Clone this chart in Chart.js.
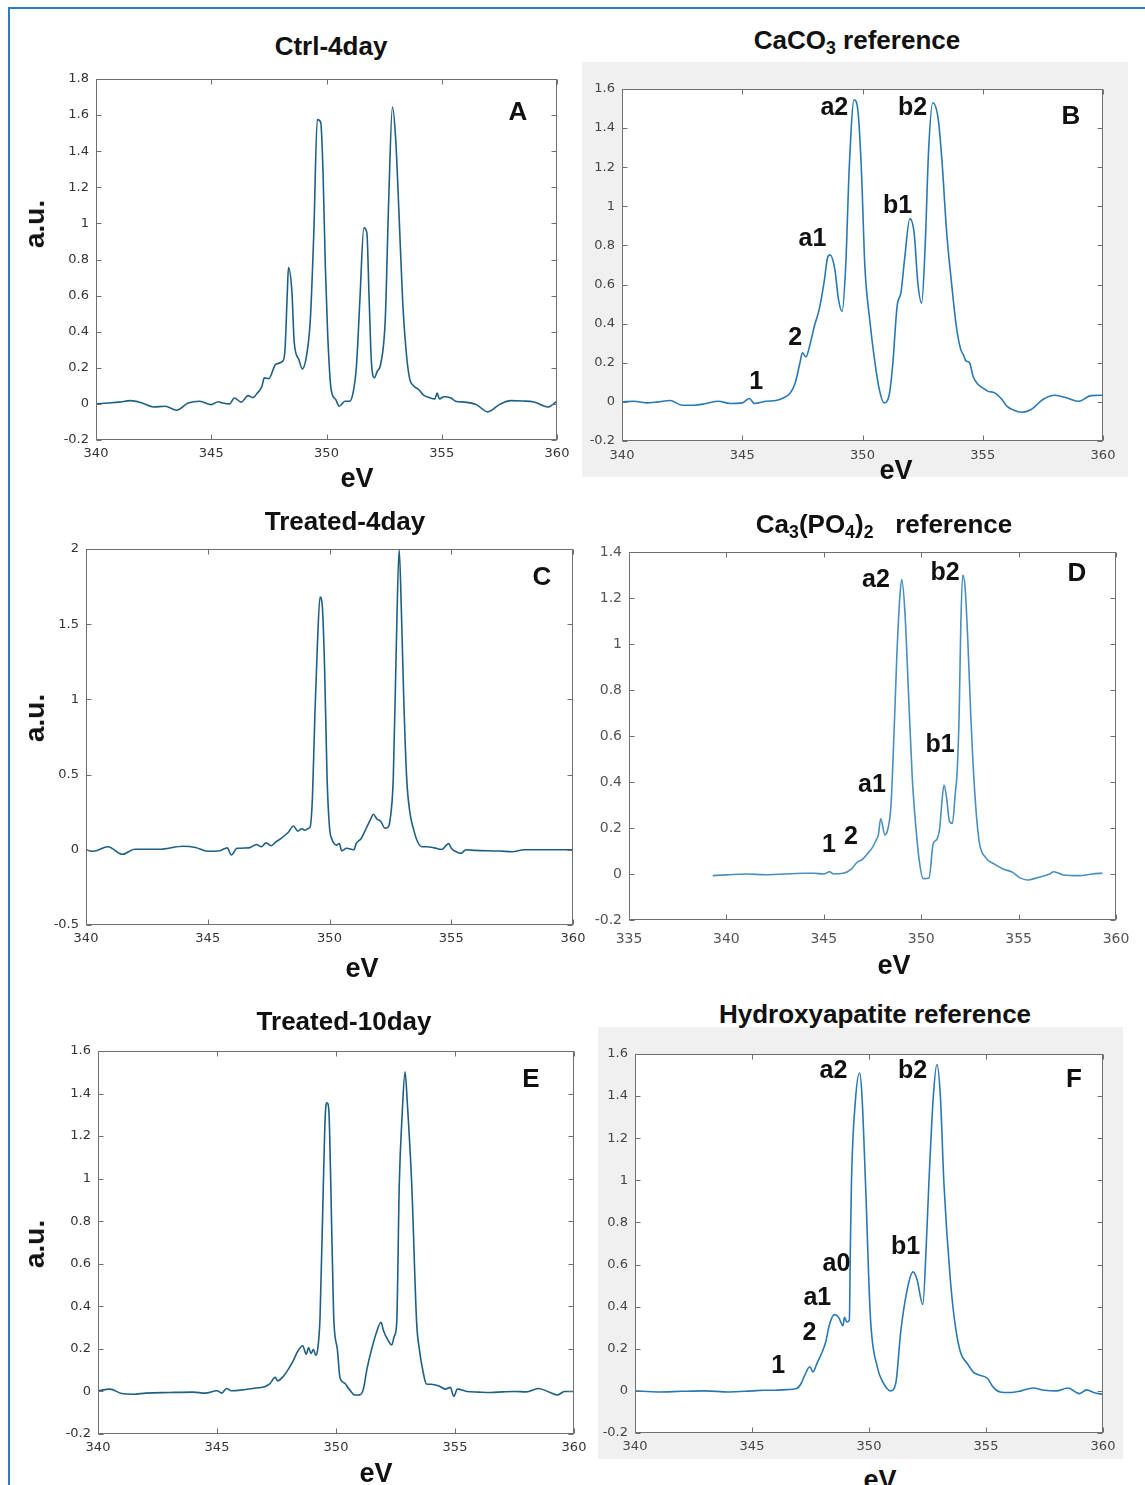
<!DOCTYPE html>
<html>
<head>
<meta charset="utf-8">
<script src="https://cdn.jsdelivr.net/npm/chart.js@4.4.1/dist/chart.umd.min.js"></script>
<style>
  html, body { margin:0; padding:0; background:#fff; }
  body { position:relative; width:1145px; height:1485px; overflow:hidden; font-family:"Liberation Sans", Arial, sans-serif; }
  .t { position:absolute; transform:translate(-50%,-50%); white-space:nowrap; font-weight:bold; color:#111; line-height:1; }
  .t sub { font-size:68%; vertical-align:-0.28em; line-height:0; }
  canvas { position:absolute; }
  .bg { position:absolute; background:#f0f0f0; }
</style>
</head>
<body>
<div style="position:absolute;left:8px;top:7px;width:1160px;height:1500px;border-left:2px solid #2c7bc6;border-top:2px solid #2c7bc6;"></div>
<div class="bg" style="left:582px;top:62px;width:546px;height:415px;"></div>
<div class="bg" style="left:598px;top:1027px;width:525px;height:432px;"></div>
<script>
// ---------------- DATA ----------------
// Panel A: Ctrl-4day
const ctrl4Ev = [340,340.5,341,341.5,342,342.5,343,343.5,344,344.5,345,345.3,345.5,345.8,346,346.3,346.6,346.8,347,347.2,347.3,347.5,347.8,348.1,348.2,348.3,348.35,348.5,348.6,348.8,348.95,349.15,349.3,349.45,349.6,349.75,349.85,349.95,350.05,350.2,350.4,350.55,350.8,351,351.15,351.3,351.45,351.62,351.75,351.85,351.95,352.08,352.2,352.35,352.55,352.7,352.86,353,353.15,353.3,353.45,353.6,353.8,354,354.2,354.5,354.7,354.8,354.9,355.1,355.4,355.6,356,356.5,357,357.5,358,358.5,359,359.6,360];
const ctrl4Au = [0.0,0.005,0.01,0.018,0.005,-0.017,-0.013,-0.035,0.005,0.015,-0.004,0.012,0.005,0.0,0.033,0.01,0.046,0.035,0.06,0.098,0.144,0.14,0.22,0.237,0.30,0.617,0.755,0.62,0.34,0.246,0.194,0.28,0.47,0.95,1.575,1.56,1.28,0.76,0.39,0.08,0.024,-0.013,0.015,0.015,0.06,0.21,0.58,0.975,0.95,0.58,0.228,0.145,0.18,0.22,0.47,1.135,1.645,1.47,1.04,0.58,0.30,0.144,0.098,0.08,0.05,0.033,0.028,0.06,0.028,0.04,0.033,0.015,0.01,-0.004,-0.044,-0.004,0.018,0.016,0.011,-0.017,0.015];

// Panel B: CaCO3 reference
const caco3Ev = [340,340.5,341,341.5,342,342.5,343,343.5,344,344.5,345,345.3,345.5,346,346.4,346.7,347,347.2,347.4,347.5,347.65,347.8,348,348.2,348.4,348.55,348.65,348.85,349,349.15,349.3,349.45,349.65,349.8,349.95,350.1,350.3,350.5,350.7,350.9,351.1,351.25,351.44,351.6,351.75,351.97,352.15,352.3,352.46,352.6,352.75,352.92,353.15,353.3,353.5,353.7,353.9,354.08,354.2,354.3,354.45,354.6,354.8,355,355.2,355.5,355.8,356,356.3,356.6,357,357.5,358,358.5,359,359.5,360];
const caco3Au = [0,0.003,-0.005,0.0,0.007,-0.017,-0.017,-0.008,0.003,-0.008,-0.005,0.017,-0.008,0.003,0.007,0.02,0.046,0.097,0.2,0.251,0.23,0.285,0.388,0.473,0.61,0.738,0.752,0.678,0.525,0.462,0.69,1.2,1.545,1.5,1.2,0.69,0.42,0.216,0.063,-0.005,0.03,0.18,0.49,0.56,0.73,0.937,0.86,0.61,0.505,0.78,1.29,1.53,1.445,1.24,0.866,0.61,0.388,0.27,0.24,0.21,0.2,0.13,0.09,0.072,0.055,0.046,0.012,-0.022,-0.043,-0.053,-0.04,0.012,0.034,0.02,0.003,0.032,0.034];

// Panel C: Treated-4day
const treat4Ev = [340,340.3,340.9,341.5,342,343,344,344.5,345,345.5,345.8,345.97,346.2,346.7,347,347.2,347.4,347.6,347.8,348,348.3,348.52,348.7,348.85,349,349.1,349.2,349.3,349.4,349.5,349.61,349.7,349.8,349.9,350,350.1,350.3,350.4,350.5,350.7,351,351.1,351.3,351.5,351.7,351.8,351.95,352.1,352.28,352.4,352.48,352.62,352.75,352.86,352.95,353.05,353.17,353.3,353.44,353.6,353.8,354,354.3,354.6,354.9,355,355.2,355.4,355.6,356,357,357.5,358,359,360];
const treat4Au = [0,-0.01,0.02,-0.03,0.004,0.004,0.024,0.015,-0.01,-0.006,0.013,-0.035,0.01,0.013,0.035,0.02,0.046,0.027,0.053,0.075,0.115,0.158,0.124,0.14,0.13,0.14,0.15,0.35,0.9,1.35,1.68,1.63,1.2,0.48,0.15,0.07,0.031,0.042,-0.007,0.01,0.0,0.042,0.075,0.14,0.208,0.236,0.204,0.19,0.143,0.15,0.19,0.48,1.4,2.0,1.6,1.0,0.475,0.25,0.144,0.06,0.02,0.02,0.013,0.002,0.042,0.01,-0.013,-0.024,0.0,-0.004,-0.008,-0.013,0.0,0.0,0.0];

// Panel D: Ca3(PO4)2 reference
const tcpEv = [339.3,340,341,342,343,344,344.5,345,345.3,345.5,346,346.4,346.7,347,347.3,347.5,347.7,347.8,347.92,348.14,348.3,348.45,348.6,348.75,348.9,349.0,349.16,349.35,349.54,349.73,349.9,350.1,350.4,350.62,350.8,350.95,351.05,351.17,351.3,351.45,351.6,351.75,351.85,351.95,352.03,352.13,352.25,352.4,352.54,352.73,352.97,353.3,353.76,354.2,354.7,355.07,355.45,356,356.6,356.8,357.3,358.1,358.8,359.3];
const tcpAu = [-0.007,-0.004,0.0,-0.003,0.0,0.003,0.003,0.0,0.01,0.0,0.003,0.02,0.05,0.065,0.094,0.116,0.15,0.17,0.24,0.17,0.2,0.3,0.6,0.95,1.2,1.28,1.145,0.783,0.42,0.2,0.058,-0.02,-0.017,0.133,0.15,0.2,0.3,0.387,0.333,0.23,0.22,0.35,0.45,0.7,1.07,1.3,1.25,1.0,0.7,0.38,0.145,0.072,0.043,0.022,0.007,-0.017,-0.026,-0.015,0.0,0.01,-0.004,-0.007,0.0,0.004];

// Panel E: Treated-10day
const treat10Ev = [340,340.5,341,341.5,342,343,344,344.5,345,345.2,345.4,345.6,346,346.5,347,347.2,347.45,347.55,347.8,348,348.2,348.4,348.6,348.75,348.85,348.95,349.05,349.15,349.22,349.33,349.47,349.55,349.62,349.7,349.78,349.9,350.06,350.17,350.35,350.55,350.8,351,351.15,351.3,351.5,351.7,351.89,352,352.2,352.34,352.45,352.55,352.66,352.78,352.9,353,353.18,353.39,353.5,353.67,353.8,354,354.3,354.6,354.8,354.95,355.1,355.5,356,356.5,357,357.5,358,358.5,359,359.3,359.6,360];
const treat10Au = [0.003,0.011,-0.01,-0.013,-0.008,-0.005,-0.003,-0.008,0.003,-0.008,0.014,0.003,0.006,0.014,0.022,0.034,0.066,0.05,0.073,0.105,0.144,0.19,0.215,0.175,0.206,0.178,0.198,0.17,0.19,0.35,0.98,1.3,1.357,1.32,0.98,0.36,0.195,0.063,0.04,0.011,-0.017,-0.016,0.011,0.105,0.2,0.277,0.325,0.284,0.238,0.218,0.26,0.32,0.98,1.3,1.502,1.35,0.98,0.32,0.2,0.086,0.035,0.034,0.027,0.011,0.019,-0.023,0.011,0.0,-0.003,-0.005,-0.002,0.0,-0.002,0.014,-0.005,-0.017,0.0,0.0];

// Panel F: Hydroxyapatite reference
const hapEv = [340,341,342,343,344,345,345.5,346,346.5,346.9,347.1,347.25,347.47,347.6,347.8,348,348.15,348.3,348.52,348.7,348.89,348.95,349.05,349.16,349.2,349.25,349.42,349.6,349.7,349.85,350.06,350.35,350.6,350.92,351.15,351.35,351.63,351.88,352.05,352.3,352.45,352.56,352.75,352.9,353.05,353.2,353.49,353.7,353.92,354.2,354.5,355.06,355.3,355.6,356,356.5,357,357.5,358,358.5,359,359.3,359.6,360];
const hapAu = [0,-0.005,-0.002,0,-0.005,0,0.003,0.003,0.006,0.011,0.035,0.074,0.115,0.09,0.137,0.185,0.232,0.311,0.362,0.35,0.31,0.35,0.327,0.335,0.65,0.99,1.38,1.51,1.4,0.99,0.35,0.115,0.04,0.0,0.04,0.275,0.48,0.565,0.53,0.41,0.7,0.99,1.4,1.55,1.4,0.99,0.51,0.3,0.18,0.13,0.085,0.06,0.019,-0.005,-0.008,0.0,0.014,0.003,0.0,0.014,-0.013,0.005,-0.008,-0.017];

// Axis tick settings
const ticksA = { xMin:340, xMax:360, xStep:5, yMin:-0.2, yMax:1.8, yStep:0.2 };
const ticksB = { xMin:340, xMax:360, xStep:5, yMin:-0.2, yMax:1.6, yStep:0.2 };
const ticksC = { xMin:340, xMax:360, xStep:5, yMin:-0.5, yMax:2.0, yStep:0.5 };
const ticksD = { xMin:335, xMax:360, xStep:5, yMin:-0.2, yMax:1.4, yStep:0.2 };
const ticksE = { xMin:340, xMax:360, xStep:5, yMin:-0.2, yMax:1.6, yStep:0.2 };
const ticksF = { xMin:340, xMax:360, xStep:5, yMin:-0.2, yMax:1.6, yStep:0.2 };

// Peak annotation labels (text, eV, a.u.)
const peaksB = [["a2",348.83,1.50],["b2",352.08,1.50],["b1",351.46,1.0],["a1",347.92,0.83],["2",347.2,0.327],["1",345.58,0.10]];
const peaksD = [["a2",347.68,1.278],["b2",351.22,1.309],["b1",350.97,0.561],["a1",347.47,0.387],["2",346.4,0.161],["1",345.27,0.126]];
const peaksF = [["a2",348.48,1.519],["b2",351.86,1.519],["b1",351.56,0.683],["a0",348.61,0.603],["a1",347.79,0.441],["2",347.45,0.275],["1",346.12,0.118]];

// ---------------- DRAWING ----------------
const YW = 50, PT = 16, PR = 26, XH = 30;

const framePlugin = {
  id: 'frame',
  beforeDraw(chart) {
    const { ctx, chartArea: a } = chart;
    ctx.save();
    ctx.fillStyle = '#ffffff';
    ctx.fillRect(a.left, a.top, a.right - a.left, a.bottom - a.top);
    ctx.restore();
  },
  afterDraw(chart, args, opts) {
    const { ctx, chartArea: a, scales: { x, y } } = chart;
    ctx.save();
    ctx.strokeStyle = opts.axisColor || '#6f6f6f';
    ctx.lineWidth = 1;
    const L = Math.round(a.left) + 0.5, R = Math.round(a.right) - 0.5;
    const T = Math.round(a.top) + 0.5, B = Math.round(a.bottom) - 0.5;
    ctx.strokeRect(L, T, R - L, B - T);
    const tl = 5;
    ctx.beginPath();
    x.ticks.forEach(t => {
      const px = Math.round(x.getPixelForValue(t.value)) + 0.5;
      ctx.moveTo(px, B); ctx.lineTo(px, B - tl);
      ctx.moveTo(px, T); ctx.lineTo(px, T + tl);
    });
    y.ticks.forEach(t => {
      const py = Math.round(y.getPixelForValue(t.value)) + 0.5;
      ctx.moveTo(L, py); ctx.lineTo(L + tl, py);
      ctx.moveTo(R, py); ctx.lineTo(R - tl, py);
    });
    ctx.stroke();
    if (opts.peaks) {
      ctx.fillStyle = '#111';
      ctx.font = 'bold 25px "Liberation Sans", Arial, sans-serif';
      ctx.textAlign = 'center';
      ctx.textBaseline = 'middle';
      opts.peaks.forEach(p => {
        ctx.fillText(p[0], x.getPixelForValue(p[1]), y.getPixelForValue(p[2]));
      });
    }
    ctx.restore();
  }
};

function fmt(v) { return String(+Number(v).toFixed(2)); }

function makePanel(box, ev, au, tk, color, peaks, tickColor, tickSize, xPad) {
  let W = box.r - box.l + YW + PR;
  let H = box.b - box.t + PT + XH;
  const c = document.createElement('canvas');
  c.width = W; c.height = H;
  c.style.width = W + 'px'; c.style.height = H + 'px';
  document.body.appendChild(c);
  const pts = ev.map((e, i) => ({ x: e, y: au[i] }));
  const tickFont = { family: 'DejaVu Sans', size: tickSize };
  const chart = new Chart(c, {
    type: 'line',
    data: { datasets: [{ data: pts, borderColor: color, borderWidth: 1.6, pointRadius: 0, cubicInterpolationMode: 'monotone', fill: false }] },
    options: {
      responsive: false, animation: false, devicePixelRatio: 1,
      layout: { padding: { top: PT, right: PR, left: 0, bottom: 0 } },
      plugins: { legend: { display: false }, tooltip: { enabled: false }, frame: { peaks: peaks } },
      scales: {
        x: {
          type: 'linear', min: tk.xMin, max: tk.xMax,
          ticks: { stepSize: tk.xStep, font: tickFont, color: tickColor, padding: xPad, maxRotation: 0, autoSkip: false, callback: v => fmt(v) },
          grid: { display: false, drawTicks: false }, border: { display: false },
          afterFit(s) { s.height = XH; }
        },
        y: {
          type: 'linear', min: tk.yMin, max: tk.yMax,
          ticks: { stepSize: tk.yStep, font: tickFont, color: tickColor, padding: 7, autoSkip: false, callback: v => fmt(v) },
          grid: { display: false, drawTicks: false }, border: { display: false },
          afterFit(s) { s.width = YW; }
        }
      }
    },
    plugins: [framePlugin]
  });
  // make the plotting area exactly the wanted box
  for (let k = 0; k < 3; k++) {
    const a = chart.chartArea;
    const dw = (box.r - box.l) - (a.right - a.left);
    const dh = (box.b - box.t) - (a.bottom - a.top);
    if (Math.abs(dw) < 0.5 && Math.abs(dh) < 0.5) break;
    W = Math.round(W + dw); H = Math.round(H + dh);
    chart.resize(W, H);
  }
  const a = chart.chartArea;
  c.style.left = (box.l - a.left) + 'px';
  c.style.top = (box.t - a.top) + 'px';
}

const dark = '#1f5f83', ref = '#2a78b2', light = '#4a8fbd';
makePanel({ l: 96, r: 557, t: 79, b: 440 }, ctrl4Ev, ctrl4Au, ticksA, dark, null, '#333', 13, 6);
makePanel({ l: 622, r: 1103, t: 89, b: 441 }, caco3Ev, caco3Au, ticksB, ref, peaksB, '#444', 13, 7);
makePanel({ l: 86, r: 573, t: 549, b: 925 }, treat4Ev, treat4Au, ticksC, dark, null, '#333', 13, 6);
makePanel({ l: 629, r: 1116, t: 552, b: 920 }, tcpEv, tcpAu, ticksD, light, peaksD, '#555', 14, 11);
makePanel({ l: 98, r: 574, t: 1051, b: 1434 }, treat10Ev, treat10Au, ticksE, dark, null, '#333', 13, 6);
makePanel({ l: 635, r: 1103, t: 1054, b: 1433 }, hapEv, hapAu, ticksF, ref, peaksF, '#444', 13, 6);

// ---------------- TEXT ----------------
function txt(html, cx, cy, size, rot) {
  const d = document.createElement('div');
  d.className = 't';
  d.innerHTML = html;
  d.style.left = cx + 'px'; d.style.top = cy + 'px';
  d.style.fontSize = size + 'px';
  if (rot) d.style.transform = 'translate(-50%,-50%) rotate(-90deg)';
  document.body.appendChild(d);
}
txt('Ctrl-4day', 331, 46, 26);
txt('CaCO<sub>3</sub> reference', 857, 40, 26);
txt('Treated-4day', 345, 521, 26);
txt('Ca<sub>3</sub>(PO<sub>4</sub>)<sub>2</sub>&nbsp;&nbsp; reference', 884, 524, 26);
txt('Treated-10day', 344, 1021, 26);
txt('Hydroxyapatite reference', 875, 1014, 26);

txt('a.u.', 35, 224, 28, true);
txt('a.u.', 35, 718, 28, true);
txt('a.u.', 35, 1244, 28, true);

txt('eV', 357, 478, 27);
txt('eV', 896, 470, 27);
txt('eV', 362, 968, 27);
txt('eV', 894, 965, 27);
txt('eV', 376, 1473, 27);
txt('eV', 880, 1480, 27);

txt('A', 518, 111, 26);
txt('B', 1071, 115, 26);
txt('C', 542, 576, 26);
txt('D', 1077, 572, 26);
txt('E', 531, 1078, 26);
txt('F', 1074, 1078, 26);
</script>
</body>
</html>
